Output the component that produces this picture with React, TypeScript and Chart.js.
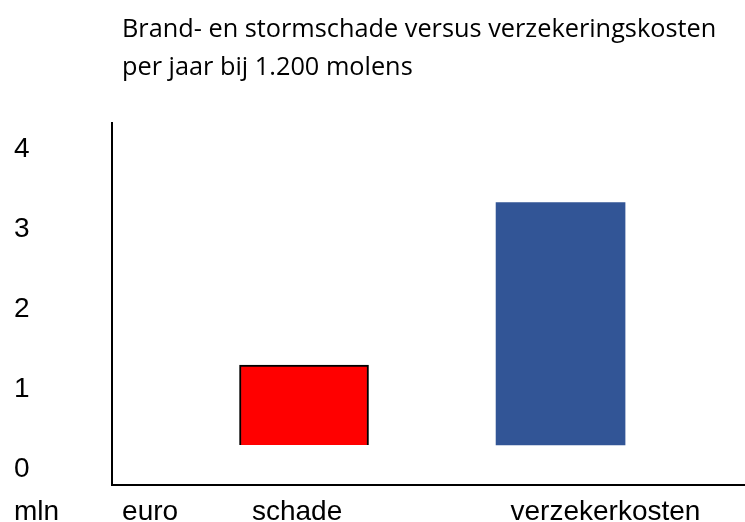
import React, { useEffect, useRef } from "react";
import { Chart, registerables } from "chart.js";

Chart.register(...registerables);

// ---- data ----
const titleLines = [
  "Brand- en stormschade versus verzekeringskosten",
  "per jaar bij 1.200 molens",
];
const categories = ["schade", "verzekerkosten"];
const values = [1.0, 3.03];
const barColors = ["#FF0000", "#325596"];
const barBorderWidths = [2, 0];
const yTicks = [0, 1, 2, 3, 4];
const unitParts = ["mln", "euro"];

const AXIS_FONT = "'Liberation Sans', Arial, sans-serif";
const TITLE_FONT = "'Open Sans', sans-serif";

export default function App() {
  const ref = useRef<HTMLCanvasElement | null>(null);

  useEffect(() => {
    if (!ref.current) return;
    // layout: positions of the x labels along the x scale (category index units)
    const xLabels = [unitParts[1], ...categories];
    const xLabelPos = [0.4, 0.973, 2.175];

    const overlayText = {
      id: "overlayText",
      afterDraw(chart: any) {
        const ctx = chart.ctx;
        const area = chart.chartArea;
        ctx.save();
        ctx.fillStyle = "#000";
        ctx.textAlign = "left";
        ctx.textBaseline = "alphabetic";
        ctx.font = `25.3px ${TITLE_FONT}`;
        titleLines.forEach((t, i) => {
          ctx.fillText(t, area.left + 10, 37 + i * 38);
        });
        const xs = chart.scales.x;
        const ys = chart.scales.y;
        ctx.font = `28px ${AXIS_FONT}`;
        ctx.textBaseline = "middle";
        ctx.fillText(unitParts[0], ys.left, xs.top + 10 + (28 * 1.2) / 2);
        ctx.restore();
      },
    };

    const chart = new Chart(ref.current, {
      type: "bar",
      data: {
        datasets: [
          {
            data: values.map((v, i) => ({ x: i + 1, y: v })),
            backgroundColor: barColors,
            borderColor: "#000",
            borderWidth: barBorderWidths,
            borderSkipped: "start",
            barThickness: 129,
          } as any,
        ],
      },
      options: {
        animation: false,
        responsive: true,
        maintainAspectRatio: false,
        layout: { padding: { left: 14, top: 123, right: 0, bottom: 0 } },
        plugins: {
          legend: { display: false },
          tooltip: { enabled: false },
          title: { display: false },
        },
        scales: {
          x: {
            type: "linear",
            offset: false,
            min: 0.2515,
            max: 2.719,
            grid: { display: false, drawTicks: false, offset: false },
            border: { display: true, color: "#000", width: 2 },
            afterBuildTicks: (s: any) => {
              s.ticks = xLabelPos.map((v) => ({ value: v }));
            },
            afterFit: (s: any) => {
              s.height = 37;
            },
            ticks: {
              autoSkip: false,
              maxRotation: 0,
              minRotation: 0,
              padding: 10,
              color: "#000",
              font: { family: AXIS_FONT, size: 28 },
              callback: (_v: any, i: number) => xLabels[i],
            },
          },
          y: {
            type: "linear",
            min: -0.5,
            max: 4.025,
            grid: { display: false, drawTicks: false },
            border: { display: true, color: "#000", width: 2 },
            afterBuildTicks: (s: any) => {
              s.ticks = yTicks.map((v) => ({ value: v }));
            },
            afterFit: (s: any) => {
              s.width = 98;
            },
            ticks: {
              crossAlign: "far",
              padding: 0,
              labelOffset: 24,
              color: "#000",
              font: { family: AXIS_FONT, size: 28 },
              callback: (v: any) => String(v),
            },
          },
        },
      },
      plugins: [overlayText],
    } as any);

    return () => chart.destroy();
  }, []);

  return (
    <div style={{ position: "fixed", left: 0, top: 0, width: 745, height: 522, background: "#fff" }}>
      <canvas ref={ref} />
    </div>
  );
}
